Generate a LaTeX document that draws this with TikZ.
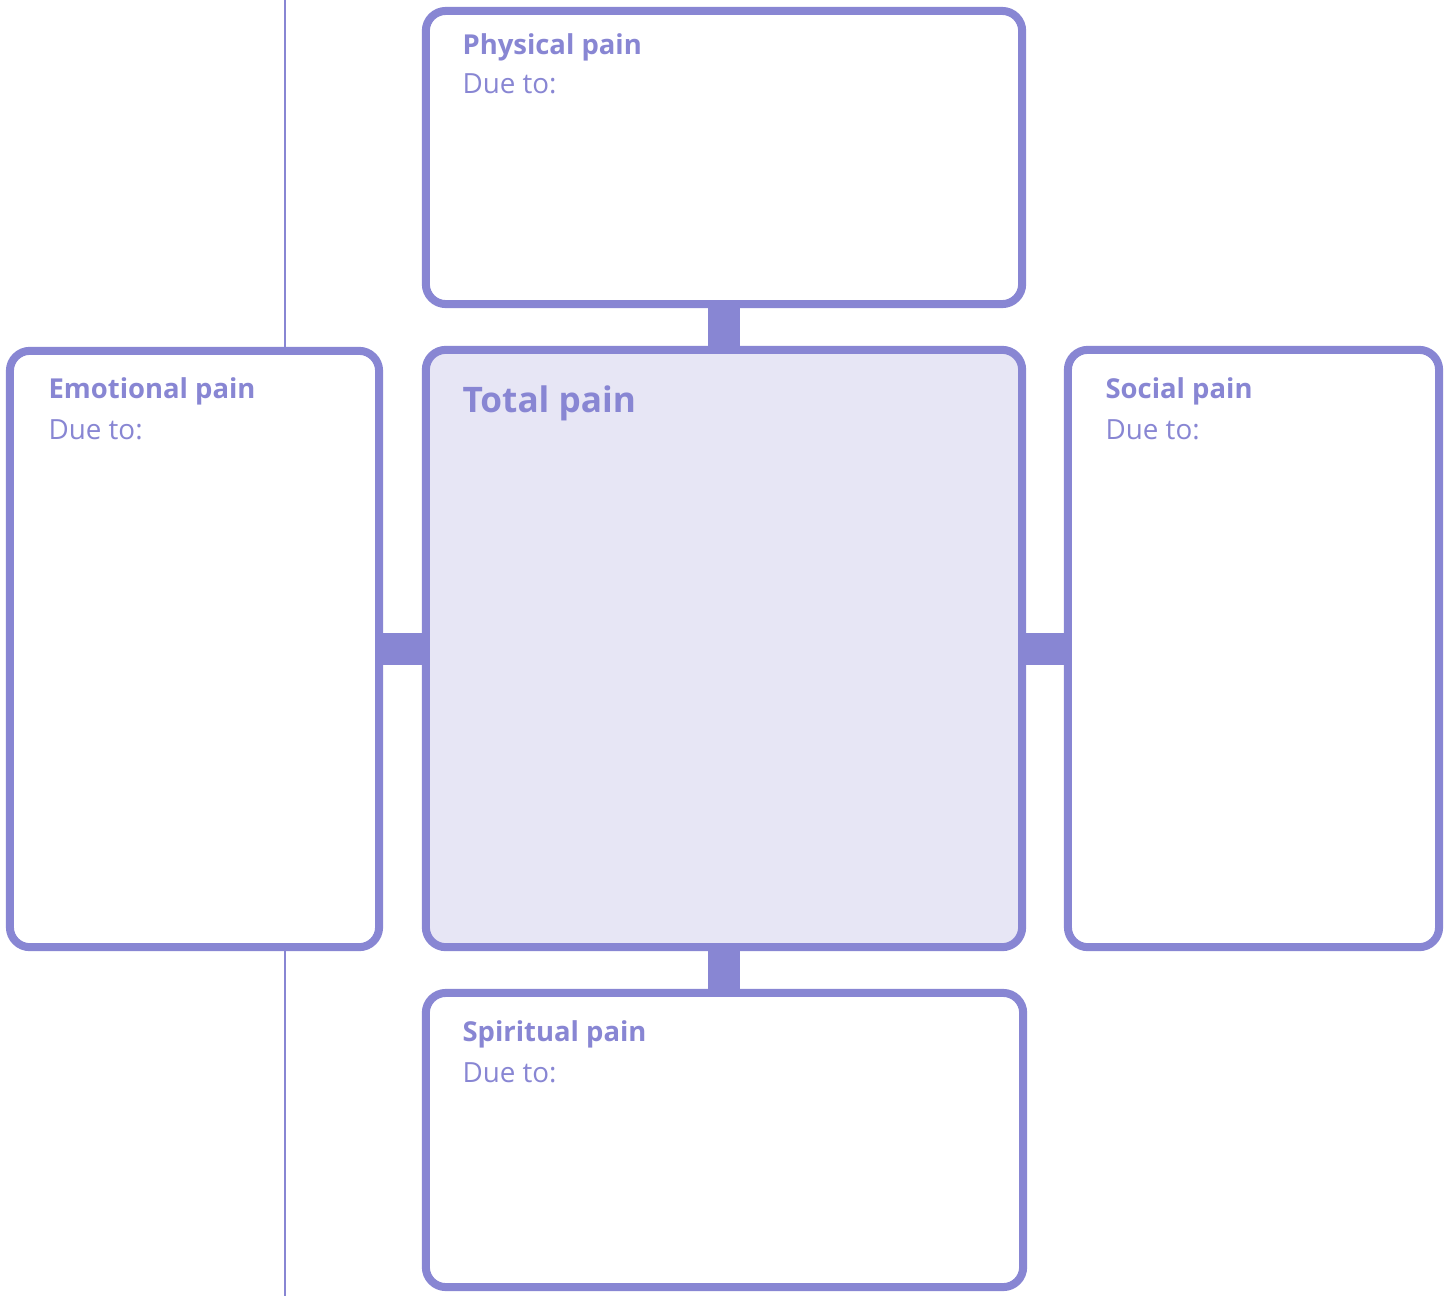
\documentclass[tikz,border=0pt]{standalone}
\usepackage{fontspec}
\setmainfont{Open Sans}
\usetikzlibrary{positioning, calc}
\definecolor{painline}{HTML}{8886D3}
\definecolor{totalfill}{HTML}{E7E6F5}

\begin{document}
\begin{tikzpicture}[x=0.01cm, y=-0.01cm]

\tikzset{
  painbox/.style={rectangle, draw=painline, fill=white, line width=0.08cm,
    rounded corners=0.2cm, outer sep=0pt, inner sep=0pt},
  totalbox/.style={painbox, fill=totalfill},
  link/.style={painline, line width=0.32cm},
  rule/.style={painline, line width=0.4pt},
  head/.style={anchor=base west, inner sep=0pt, text=painline,
    font=\fontsize{7.8}{10}\selectfont\bfseries},
  dueto/.style={anchor=base west, inner sep=0pt, text=painline,
    font=\fontsize{7.9}{10}\selectfont},
  bighead/.style={head, font=\fontsize{10}{12}\selectfont\bfseries},
}

\useasboundingbox (0,0) rectangle (1451,1296);

% ---------------------------------------------------------------
% page rule behind the left box
% ---------------------------------------------------------------
\coordinate (ruletop) at (285,0);
\coordinate (rulebot) at (285,1296);
\draw[rule] (ruletop) -- (rulebot);

% ---------------------------------------------------------------
% boxes
% ---------------------------------------------------------------
\node[painbox, minimum width=5.96cm, minimum height=2.93cm] (physical)  at (724,157.5) {};
\node[totalbox, minimum width=5.96cm, minimum height=5.97cm] (total)    at (724,648.5) {};
\node[painbox, minimum width=3.69cm, minimum height=5.96cm] (emotional) at (194.5,649) {};
\node[painbox, minimum width=3.71cm, minimum height=5.97cm] (social)    at (1253.5,648.5) {};
\node[painbox, minimum width=5.97cm, minimum height=2.94cm] (spiritual) at (724.5,1140) {};

% links between the boxes
\draw[link] (physical.south) -- (total.north);
\draw[link] (total.south) -- (total.south |- spiritual.north);
\draw[link] (total.west) -- (total.west -| emotional.east);
\draw[link] (total.east) -- (total.east -| social.west);

% ---------------------------------------------------------------
% texts
% ---------------------------------------------------------------
\node[head]  (physhead) at ([shift={(36,44)}]physical.north west) {Physical pain};
\node[dueto] (physdue)  at ([shift={(36,83)}]physical.north west) {Due to:};

\node[bighead] (totalhead) at ([shift={(36,63)}]total.north west) {Total pain};

\node[head]  (emohead) at ([shift={(38,48)}]emotional.north west) {Emotional pain};
\node[dueto] (emodue)  at ([shift={(38,89)}]emotional.north west) {Due to:};

\node[head]  (sochead) at ([shift={(37,49)}]social.north west) {Social pain};
\node[dueto] (socdue)  at ([shift={(37,90)}]social.north west) {Due to:};

\node[head]  (spirhead) at ([shift={(36,49)}]spiritual.north west) {Spiritual pain};
\node[dueto] (spirdue)  at ([shift={(36,90)}]spiritual.north west) {Due to:};

\end{tikzpicture}
\end{document}
